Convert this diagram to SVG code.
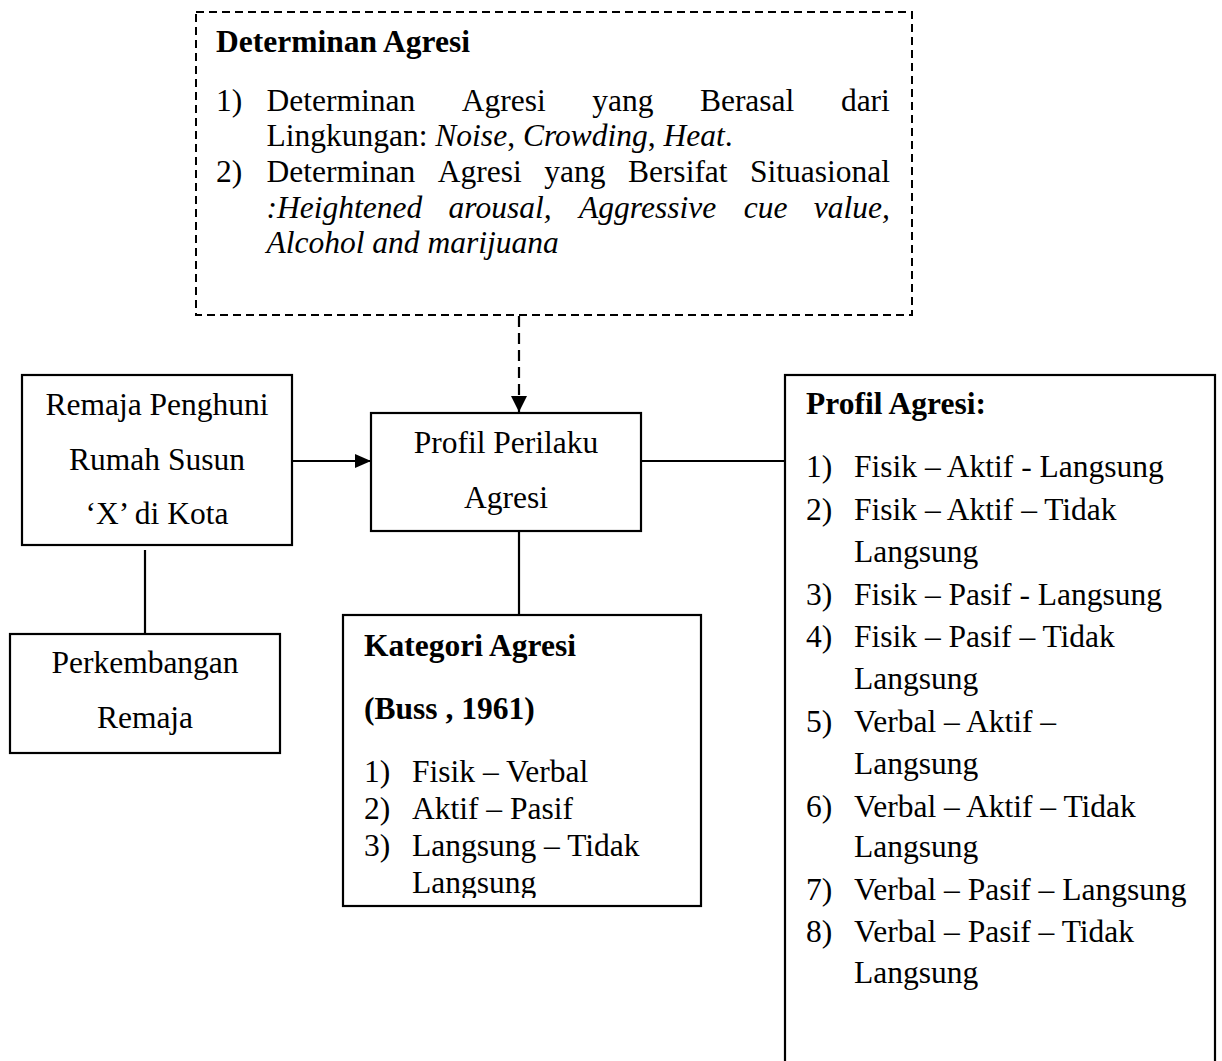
<svg xmlns="http://www.w3.org/2000/svg" width="1222" height="1061" viewBox="0 0 1222 1061">
<style>
  text { font-family: "Liberation Serif", "Times New Roman", serif; font-size: 31.5px; fill: #000; }
  .b { font-weight: bold; }
  .i { font-style: italic; }
  .box { fill: #fff; stroke: #000; stroke-width: 2.2; }
  .dbox { fill: #fff; stroke: #000; stroke-width: 2; stroke-dasharray: 8 5; }
  .c { text-anchor: middle; }
  .conn { stroke: #000; stroke-width: 2.2; fill: none; }
</style>
<defs>
  <marker id="arr" markerUnits="userSpaceOnUse" markerWidth="16" markerHeight="14" refX="16" refY="7" orient="auto">
    <path d="M0,0 L16,7 L0,14 Z" fill="#000"/>
  </marker>
  <marker id="arrd" markerUnits="userSpaceOnUse" markerWidth="16" markerHeight="16" refX="16" refY="8" orient="auto">
    <path d="M0,0 L16,8 L0,16 Z" fill="#000"/>
  </marker>
  <clipPath id="katClip"><rect x="343" y="615" width="358" height="283"/></clipPath>
</defs>

<g id="connectors">
  <line class="conn" x1="519" y1="316" x2="519" y2="412" stroke-width="3" stroke-dasharray="11 6" marker-end="url(#arrd)"/>
  <line class="conn" x1="292" y1="461" x2="371" y2="461" marker-end="url(#arr)"/>
  <line class="conn" x1="641" y1="461" x2="785" y2="461"/>
  <line class="conn" x1="519" y1="531" x2="519" y2="615"/>
  <line class="conn" x1="145" y1="550" x2="145" y2="634"/>
</g>

<g id="determinan">
  <rect class="dbox" x="196" y="12" width="716" height="303"/>
  <text class="b" x="216" y="51.7">Determinan Agresi</text>
  <text x="216" y="110.5">1)</text>
  <text y="110.5"><tspan x="266.5">Determinan</tspan><tspan x="461.7">Agresi</tspan><tspan x="592.2">yang</tspan><tspan x="699.9">Berasal</tspan><tspan x="840.9">dari</tspan></text>
  <text x="266.5" y="146.2">Lingkungan: <tspan class="i">Noise</tspan>, <tspan class="i">Crowding</tspan>, <tspan class="i">Heat</tspan>.</text>
  <text x="216" y="181.9">2)</text>
  <text y="181.9"><tspan x="266.5">Determinan</tspan><tspan x="437.7">Agresi</tspan><tspan x="544.2">yang</tspan><tspan x="627.9">Bersifat</tspan><tspan x="750.1">Situasional</tspan></text>
  <text class="i" y="217.6"><tspan x="266.5">:Heightened</tspan><tspan x="448.6">arousal,</tspan><tspan x="579.1">Aggressive</tspan><tspan x="743.7">cue</tspan><tspan x="813.8">value,</tspan></text>
  <text class="i" x="266.5" y="253.3">Alcohol and marijuana</text>
</g>

<g id="remaja">
  <rect class="box" x="22" y="375" width="270" height="170"/>
  <text class="c" x="157" y="415">Remaja Penghuni</text>
  <text class="c" x="157" y="470">Rumah Susun</text>
  <text class="c" x="157" y="523.5">‘X’ di Kota</text>
</g>

<g id="perkembangan">
  <rect class="box" x="10" y="634" width="270" height="119"/>
  <text class="c" x="145" y="673">Perkembangan</text>
  <text class="c" x="145" y="728">Remaja</text>
</g>

<g id="profil-perilaku">
  <rect class="box" x="371" y="413" width="270" height="118"/>
  <text class="c" x="506" y="452.7">Profil Perilaku</text>
  <text class="c" x="506" y="507.7">Agresi</text>
</g>

<g id="kategori">
  <rect class="box" x="343" y="615" width="358" height="291"/>
  <g clip-path="url(#katClip)">
    <text class="b" x="364" y="656">Kategori Agresi</text>
    <text class="b" x="364" y="719">(Buss , 1961)</text>
    <text x="364" y="781.7">1)</text><text x="412" y="781.7">Fisik – Verbal</text>
    <text x="364" y="818.7">2)</text><text x="412" y="818.7">Aktif – Pasif</text>
    <text x="364" y="855.7">3)</text><text x="412" y="855.7">Langsung – Tidak</text>
    <text x="412" y="893">Langsung</text>
  </g>
</g>

<g id="profil-agresi">
  <rect class="box" x="785" y="375" width="430" height="720"/>
  <text class="b" x="806" y="414">Profil Agresi:</text>
  <text x="806" y="476.7">1)</text><text x="854" y="476.7">Fisik – Aktif - Langsung</text>
  <text x="806" y="519.5">2)</text><text x="854" y="519.5">Fisik – Aktif – Tidak</text>
  <text x="854" y="562">Langsung</text>
  <text x="806" y="604.5">3)</text><text x="854" y="604.5">Fisik – Pasif - Langsung</text>
  <text x="806" y="647">4)</text><text x="854" y="647">Fisik – Pasif – Tidak</text>
  <text x="854" y="689">Langsung</text>
  <text x="806" y="731.7">5)</text><text x="854" y="731.7">Verbal – Aktif –</text>
  <text x="854" y="773.5">Langsung</text>
  <text x="806" y="816.5">6)</text><text x="854" y="816.5">Verbal – Aktif – Tidak</text>
  <text x="854" y="857">Langsung</text>
  <text x="806" y="900">7)</text><text x="854" y="900">Verbal – Pasif – Langsung</text>
  <text x="806" y="941.7">8)</text><text x="854" y="941.7">Verbal – Pasif – Tidak</text>
  <text x="854" y="983.3">Langsung</text>
</g>
</svg>
